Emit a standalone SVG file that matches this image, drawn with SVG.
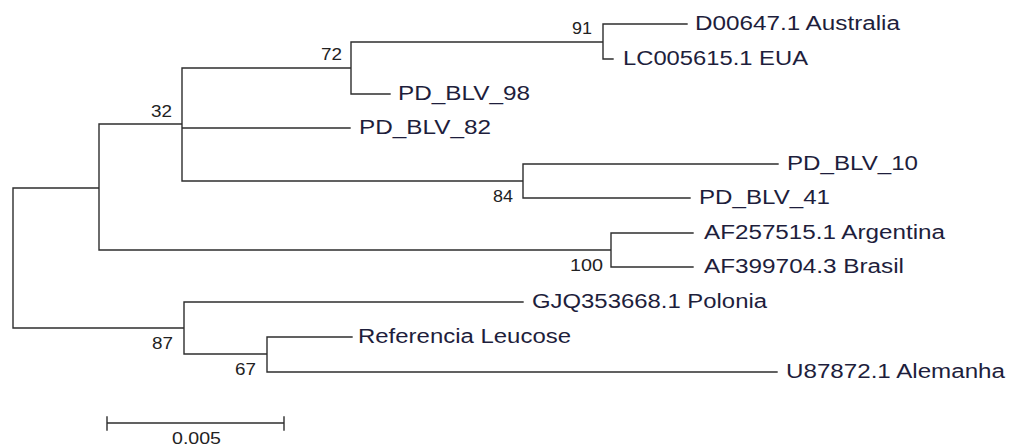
<svg xmlns="http://www.w3.org/2000/svg" width="1010" height="446" viewBox="0 0 1010 446">
<style>
.e{fill:none;stroke:#2e2e2e;stroke-width:1.4;stroke-linecap:square}
.t{font-family:"Liberation Sans",Arial,sans-serif;font-size:20px;fill:#1e1e3c}
.b{font-family:"Liberation Sans",Arial,sans-serif;font-size:17px;fill:#222}
</style>
<rect width="1010" height="446" fill="#fff"/>
<g id="connectors">
<path class="e" d="M13 188V328M13 188H99M99 124V250M99 124H182M182 68V181M182 68H351M351 42V94M351 42H603M603 24V59M603 24H687M603 59H613M351 94H390M182 128H350M182 181H523M523 164V198M523 164H778M523 198H690M99 250H611M611 233V267M611 233H693M611 267H693M13 328H184M184 302V354M184 302H523M184 354H267M267 337V372M267 337H352M267 372H777"/>
</g>
<g id="bootstrap">
<text class="b" x="572" y="34" textLength="20" lengthAdjust="spacingAndGlyphs">91</text>
<text class="b" x="321" y="60" textLength="21" lengthAdjust="spacingAndGlyphs">72</text>
<text class="b" x="151" y="116.5" textLength="21" lengthAdjust="spacingAndGlyphs">32</text>
<text class="b" x="493" y="202" textLength="20" lengthAdjust="spacingAndGlyphs">84</text>
<text class="b" x="570" y="271" textLength="33" lengthAdjust="spacingAndGlyphs">100</text>
<text class="b" x="152" y="349" textLength="21" lengthAdjust="spacingAndGlyphs">87</text>
<text class="b" x="235" y="375" textLength="21" lengthAdjust="spacingAndGlyphs">67</text>
</g>
<g id="D00647"><text class="t" x="695" y="30" textLength="205" lengthAdjust="spacingAndGlyphs">D00647.1 Australia</text></g>
<g id="LC005615"><text class="t" x="623" y="64.5" textLength="185" lengthAdjust="spacingAndGlyphs">LC005615.1 EUA</text></g>
<g id="PD_BLV_98"><text class="t" x="398" y="99.5" textLength="132" lengthAdjust="spacingAndGlyphs">PD_BLV_98</text></g>
<g id="PD_BLV_82"><text class="t" x="359" y="133.5" textLength="132" lengthAdjust="spacingAndGlyphs">PD_BLV_82</text></g>
<g id="PD_BLV_10"><text class="t" x="787" y="169.5" textLength="131" lengthAdjust="spacingAndGlyphs">PD_BLV_10</text></g>
<g id="PD_BLV_41"><text class="t" x="699" y="203.5" textLength="131" lengthAdjust="spacingAndGlyphs">PD_BLV_41</text></g>
<g id="AF257515"><text class="t" x="704" y="238.5" textLength="241" lengthAdjust="spacingAndGlyphs">AF257515.1 Argentina</text></g>
<g id="AF399704"><text class="t" x="704" y="272.5" textLength="200" lengthAdjust="spacingAndGlyphs">AF399704.3 Brasil</text></g>
<g id="GJQ353668"><text class="t" x="532" y="307.5" textLength="235" lengthAdjust="spacingAndGlyphs">GJQ353668.1 Polonia</text></g>
<g id="Referencia"><text class="t" x="358" y="342.5" textLength="213" lengthAdjust="spacingAndGlyphs">Referencia Leucose</text></g>
<g id="U87872"><text class="t" x="786" y="377.5" textLength="219" lengthAdjust="spacingAndGlyphs">U87872.1 Alemanha</text></g>
<g id="scale">
<path class="e" d="M107 423H284M107 417V430M284 417V430"/>
<text class="b" x="172" y="444" textLength="49" lengthAdjust="spacingAndGlyphs">0.005</text>
</g>
</svg>
